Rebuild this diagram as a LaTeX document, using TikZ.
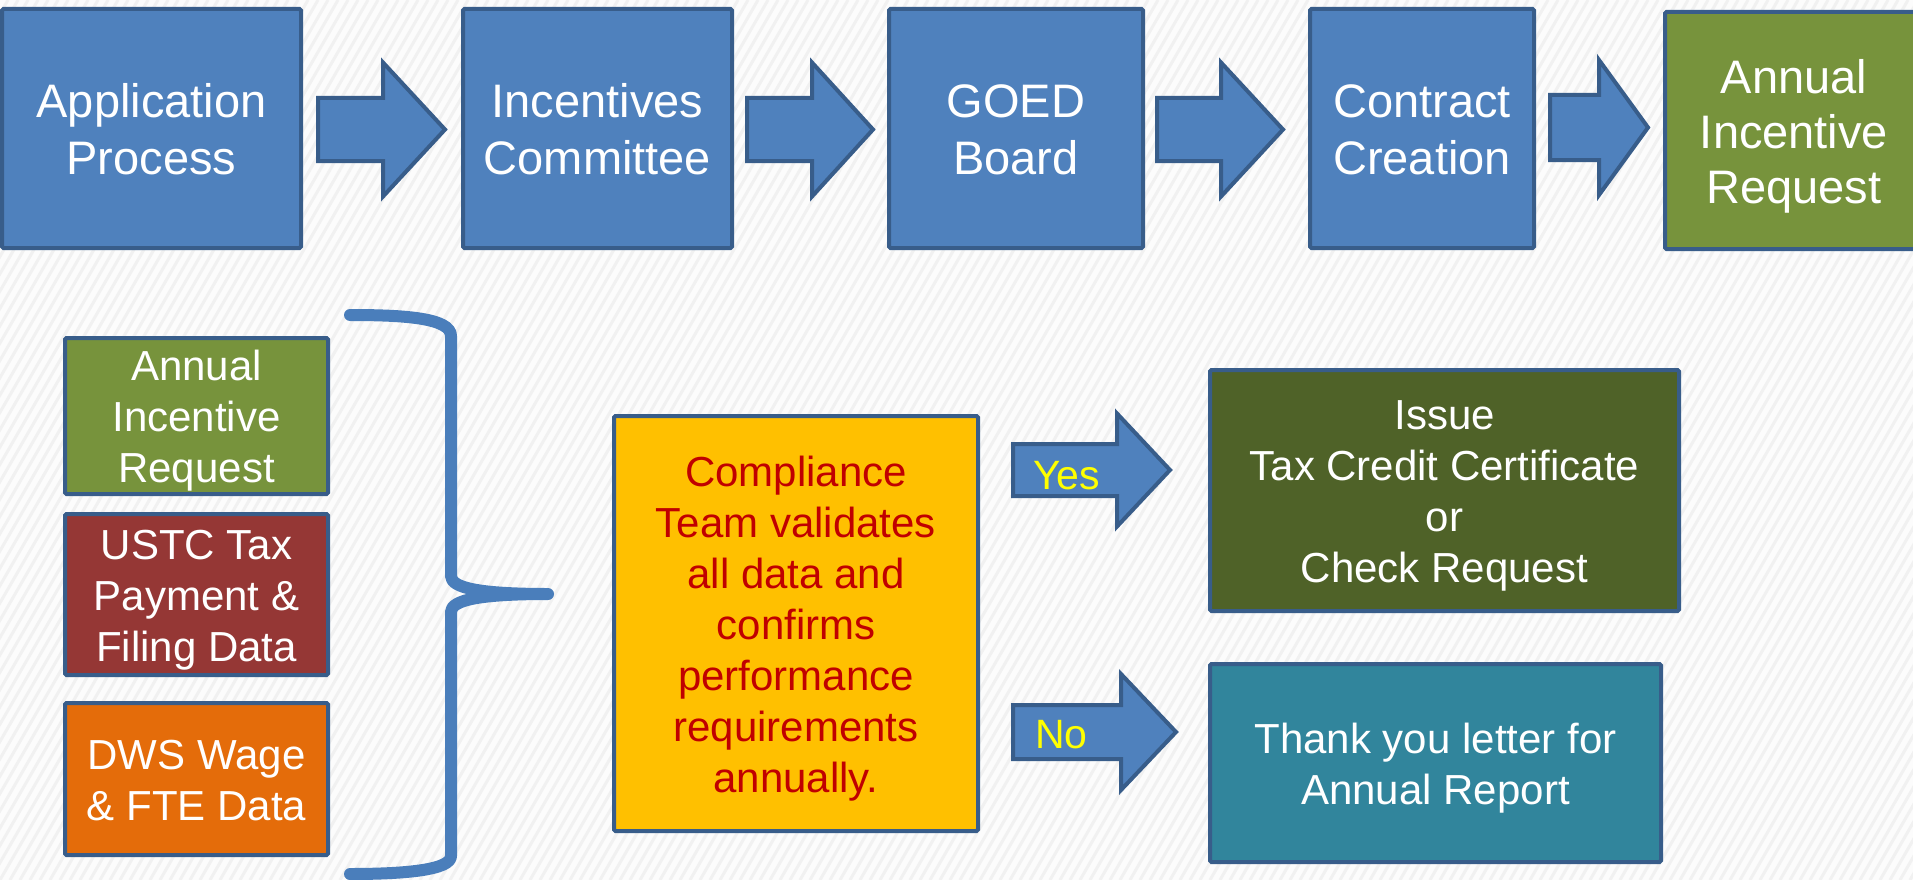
\documentclass[tikz,border=0pt]{standalone}
\usepackage{fontspec}
\setmainfont{Liberation Sans}
\definecolor{bluefill}{HTML}{4F81BD}
\definecolor{bluedraw}{HTML}{385D8A}
\definecolor{greenfill}{HTML}{77933C}
\definecolor{olivefill}{HTML}{4F6228}
\definecolor{redfill}{HTML}{953735}
\definecolor{orangefill}{HTML}{E46C0A}
\definecolor{tealfill}{HTML}{31859C}
\definecolor{goldfill}{HTML}{FFC000}
\definecolor{darkredtext}{HTML}{C00000}
\definecolor{yestext}{HTML}{FFFF00}
\definecolor{bracecol}{HTML}{4A7EBB}
\definecolor{bgcol}{HTML}{FCFCFC}
\definecolor{stripecol}{HTML}{F1F1F1}
\newcommand{\myharrow}[6]{%
  \draw[blockarrow] (#1,#4-#5) -- (#2,#4-#5) -- (#2,#4-#6) -- (#3,#4) -- (#2,#4+#6) -- (#2,#4+#5) -- (#1,#4+#5) -- cycle;}
\newcommand{\tstr}{\rule{0pt}{1.0em}}
\newcommand{\bstr}{\rule[-0.24em]{0pt}{0.24em}}
\begin{document}
\begin{tikzpicture}[x=1pt,y=-1pt,
  box/.style={draw=bluedraw, line width=4pt, rectangle, rounded corners=1.5pt, align=center, text=white, inner sep=0pt},
  bigtext/.style={font=\fontsize{47}{57}\selectfont},
  smalltext/.style={font=\fontsize{42}{51}\selectfont},
  blockarrow/.style={fill=bluefill, draw=bluedraw, line width=4pt, line join=miter},
  arrowlabel/.style={anchor=base west, inner sep=0pt, text=yestext, font=\fontsize{41}{49}\selectfont},
  bracestyle/.style={draw=bracecol, line width=12pt, line cap=round, line join=round}]
\clip (0,0) rectangle (1913,880);
\fill[bgcol] (0,0) rectangle (1913,880);
\foreach \i in {-60,...,200} {\draw[stripecol, line width=3pt] (\i*10,880) -- ++(508,-880);}

% top row
\node[box, bigtext, fill=bluefill, minimum width=299, minimum height=239] (app) at (151.5,128.5) {\tstr Application\\Process\bstr};
\node[box, bigtext, fill=bluefill, minimum width=269, minimum height=239] (inc) at (597.5,128.5) {\tstr Incentives\\Committee\bstr};
\node[box, bigtext, fill=bluefill, minimum width=254, minimum height=239] (goed) at (1016,128.5) {\tstr GOED\\Board\bstr};
\node[box, bigtext, fill=bluefill, minimum width=224, minimum height=239] (contract) at (1422,128.5) {\tstr Contract\\Creation\bstr};
\node[box, font=\fontsize{47}{55}\selectfont, fill=greenfill, minimum width=258, minimum height=237] (annual) at (1794,130.5) {\tstr Annual\\Incentive\\Request\bstr};

\myharrow{318}{383}{445}{129.5}{31.5}{67}
\myharrow{747}{812}{873}{129.5}{31.5}{67}
\myharrow{1157}{1221}{1283}{129.5}{31.5}{67}
\myharrow{1550}{1599}{1648}{127.5}{32.5}{67.5}

% left column
\node[box, smalltext, fill=greenfill, minimum width=263, minimum height=156] (l1) at (196.5,416) {\tstr Annual\\Incentive\\Request\bstr};
\node[box, smalltext, fill=redfill, minimum width=263, minimum height=161] (l2) at (196.5,594.5) {\tstr USTC Tax\\Payment \&\\Filing Data\bstr};
\node[box, smalltext, fill=orangefill, minimum width=263, minimum height=152] (l3) at (196.5,779) {\tstr DWS Wage\\\& FTE Data\bstr};

% brace
\draw[bracestyle] (350,315) .. controls (405,315) and (451,318) .. (451,336) -- (451,576)
  .. controls (451,588) and (480,594) .. (548,594)
  .. controls (480,594) and (451,600) .. (451,612) -- (451,856)
  .. controls (451,870) and (405,874) .. (350,874);

% compliance
\node[box, smalltext, fill=goldfill, text=darkredtext, minimum width=364, minimum height=415] (comp) at (796,623.5) {\tstr Compliance\\Team validates\\all data and\\confirms\\performance\\requirements\\annually.\bstr};

% outcomes
\node[box, smalltext, fill=olivefill, minimum width=469, minimum height=241] (issue) at (1444.5,490.5) {\tstr Issue\\Tax Credit Certificate\\or\\Check Request\bstr};
\node[box, smalltext, fill=tealfill, minimum width=451, minimum height=198] (thank) at (1435.5,763) {\tstr Thank you letter for\\Annual Report\bstr};

\myharrow{1013}{1117}{1170}{470}{26}{56.5}
\myharrow{1013}{1121}{1176}{732}{27}{58}
\node[arrowlabel] (yes) at (1033,489) {Yes};
\node[arrowlabel] (no) at (1035,748) {No};
\end{tikzpicture}
\end{document}
